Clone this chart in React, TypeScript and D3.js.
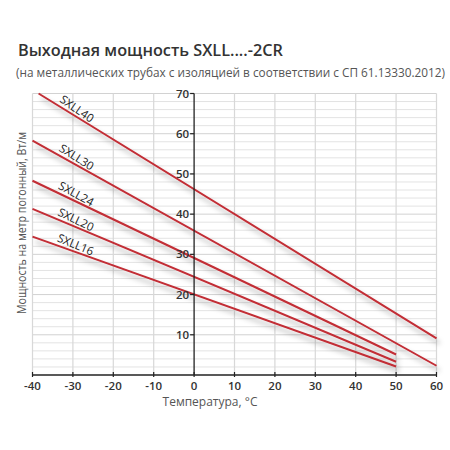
import * as d3 from 'd3';

// Нагревательные кабели SXLL...-2CR: мощность (Вт/м) на концах прямых
const SERIES = ['SXLL40', 'SXLL30', 'SXLL24', 'SXLL20', 'SXLL16'];
const T_START = [-38.5, -40, -40, -40, -40];
const T_END = [60, 60, 50, 50, 50];
const P_START = [70, 58.3, 48.3, 41.3, 34.4];
const P_END = [9.1, 2.3, 5.1, 3.3, 2.1];

const X_TICKS = [-40, -30, -20, -10, 0, 10, 20, 30, 40, 50, 60];
const Y_TICKS = [10, 20, 30, 40, 50, 60, 70];

const TITLE = 'Выходная мощность SXLL....-2CR';
const SUBTITLE = '(на металлических трубах с изоляцией в соответствии с СП 61.13330.2012)';
const X_LABEL = 'Температура, °C';
const Y_LABEL = 'Мощность на метр погонный, Вт/м';

const W = 450;
const H = 450;
const FONT = '"Open Sans", "Noto Sans", sans-serif';
const RED = '#c22d35';

export default function App() {
  const x = d3.scaleLinear().domain([-40, 60]).range([32.5, 436.5]);
  const y = d3.scaleLinear().domain([0, 70]).range([375, 93.5]);
  const minor = d3.range(2, 71, 2);
  const line = d3.line<[number, number]>().x((d) => x(d[0])).y((d) => y(d[1]));

  return (
    <div style={{ position: 'absolute', left: 0, top: 0 }}>
      <svg width={W} height={H} style={{ display: 'block', background: '#fff' }} fontFamily={FONT}>
        <defs>
          <filter id="shadow" x="-10%" y="-10%" width="130%" height="140%">
            <feDropShadow dx="3" dy="5" stdDeviation="2.5" floodColor="#000" floodOpacity="0.32" />
          </filter>
        </defs>

        <text x={18} y={56} fontSize={16.5} fontWeight={600} fill="#333" textLength={265} lengthAdjust="spacingAndGlyphs">{TITLE}</text>
        <text x={16} y={77} fontSize={11.8} fill="#555" textLength={429} lengthAdjust="spacingAndGlyphs">{SUBTITLE}</text>

        {/* сетка */}
        {minor.map((v) => (
          <line key={'h' + v} x1={x(-40)} x2={x(60)} y1={y(v)} y2={y(v)}
            stroke={v % 10 === 0 ? '#d2d2d2' : '#e3e3e3'} strokeWidth={1} />
        ))}
        {X_TICKS.filter((t) => t !== 0).map((t) => (
          <line key={'v' + t} x1={x(t)} x2={x(t)} y1={y(70)} y2={y(0)} stroke="#d8d8d8" strokeWidth={1.2} />
        ))}

        {/* кривые */}
        {SERIES.map((s, i) => (
          <path key={s} d={line([[T_START[i], P_START[i]], [T_END[i], P_END[i]]]) ?? ''}
            fill="none" stroke={RED} strokeWidth={2} filter="url(#shadow)" />
        ))}

        {/* оси */}
        <line x1={x(0)} x2={x(0)} y1={y(70)} y2={y(0)} stroke="#222" strokeWidth={1.3} />
        <line x1={x(-40)} x2={x(60)} y1={y(0)} y2={y(0)} stroke="#222" strokeWidth={1.3} />
        {Y_TICKS.map((t) => (
          <g key={'yt' + t}>
            <line x1={x(0) - 4} x2={x(0)} y1={y(t)} y2={y(t)} stroke="#222" strokeWidth={1.2} />
            <text x={x(0) - 5} y={y(t)} dy="0.35em" textAnchor="end" fontSize={11.5} fontWeight={600} fill="#333">{t}</text>
          </g>
        ))}
        {X_TICKS.map((t) => (
          <g key={'xt' + t}>
            <line x1={x(t)} x2={x(t)} y1={y(0) - 3} y2={y(0) + 2} stroke="#222" strokeWidth={1.2} />
            <text x={x(t)} y={y(0) + 15} textAnchor="middle" fontSize={11.5} fontWeight={600} fill="#333">{t}</text>
          </g>
        ))}

        {/* подписи кривых */}
        {SERIES.map((s, i) => {
          const slope = (P_END[i] - P_START[i]) / (T_END[i] - T_START[i]);
          const t0 = -30;
          const p0 = P_START[i] + slope * (t0 - T_START[i]);
          const ang = (Math.atan2(y(p0 + slope) - y(p0), x(t0 + 1) - x(t0)) * 180) / Math.PI;
          return (
            <text key={'l' + s} transform={`translate(${x(t0)},${y(p0)}) rotate(${ang + 3})`}
              dy={-3} textAnchor="middle" fontSize={11.5} fontWeight={500} fill="#222">{s}</text>
          );
        })}

        <text x={210} y={406} textAnchor="middle" fontSize={12} fill="#555">{X_LABEL}</text>
        <text transform={`translate(26,223) rotate(-90)`} textAnchor="middle" fontSize={12.5} fill="#555"
          textLength={182} lengthAdjust="spacingAndGlyphs">{Y_LABEL}</text>
      </svg>
    </div>
  );
}
